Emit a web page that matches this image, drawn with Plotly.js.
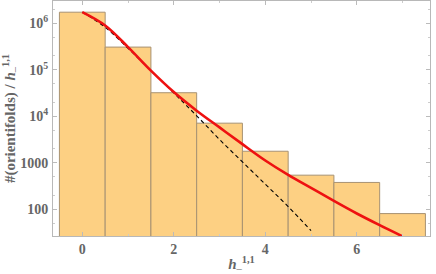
<!DOCTYPE html>
<html><head><meta charset="utf-8">
<script src="https://cdn.plot.ly/plotly-3.0.1.min.js"></script>
<style>html,body{margin:0;padding:0;background:#fff}#c{width:436px;height:274px}</style>
</head><body><div id="c"></div>
<script>
// h^{1,1}_- bins and counts
var hValues = [0, 1, 2, 3, 4, 5, 6, 7];
var counts = [1720000, 306000, 32000, 7100, 1770, 542, 378, 81];

// red fit curve (log10 values)
var fitX = [0, 0.5, 1, 1.5, 2, 2.5, 3, 3.5, 4, 4.5, 5, 5.5, 6, 6.5, 7];
var fitLog = [6.236, 5.95, 5.485, 4.98, 4.52, 4.12, 3.76, 3.40, 3.05, 2.74, 2.46, 2.18, 1.91, 1.66, 1.42];

// black dashed curve (log10 values)
var dashX = [0, 0.5, 1, 1.5, 2, 2.5, 3, 3.5, 4, 4.5, 5];
var dashLog = [6.236, 5.91, 5.46, 4.98, 4.50, 4.01, 3.50, 3.02, 2.54, 2.06, 1.54];

var yTickVals = [100, 1000, 10000, 100000, 1000000];
var yTickText = ['100', '1000', '10<sup>4</sup>', '10<sup>5</sup>', '10<sup>6</sup>'];
var xTickVals = [0, 2, 4, 6];

function pow10(a){return a.map(function(v){return Math.pow(10, v);});}

var gray = '#666666';
var font = {family: 'Liberation Serif, Times New Roman, serif', size: 14, color: gray};

var data = [
  {type: 'bar', x: hValues, y: counts, width: 1,
   marker: {color: '#fdd083', line: {color: '#a89272', width: 1}}, hoverinfo: 'skip'},
  {type: 'scatter', mode: 'lines', x: dashX, y: pow10(dashLog),
   line: {color: '#000', width: 1.1, dash: '4px,3px', shape: 'spline'}},
  {type: 'scatter', mode: 'lines', x: fitX, y: pow10(fitLog),
   line: {color: '#ee1111', width: 2.6, shape: 'spline'}}
];

var layout = {
  width: 436, height: 274,
  margin: {l: 53, r: 6, t: 1, b: 38},
  showlegend: false,
  paper_bgcolor: '#fff', plot_bgcolor: '#fff',
  bargap: 0,
  font: font,
  xaxis: {
    range: [-0.64, 7.6], tickvals: xTickVals, ticktext: xTickVals.map(String),
    ticks: 'inside', ticklen: 4, tickcolor: '#bbb', tickwidth: 1,
    minor: {tickvals: [1, 3, 5, 7], ticks: 'inside', ticklen: 2, tickcolor: '#ccc'},
    showgrid: false, zeroline: false, showline: true, linecolor: '#b8b8b8', linewidth: 1, mirror: 'ticks',
    tickfont: {family: font.family, size: 14, color: gray, weight: 'bold'},
    title: {text: '<b><i>h</i></b><sub>–</sub><sup><b>1,1</b></sup>', standoff: 6,
            font: {family: font.family, size: 15, color: gray}}
  },
  yaxis: {
    type: 'log', range: [1.427, 6.476], tickvals: yTickVals, ticktext: yTickText,
    ticks: 'inside', ticklen: 4, tickcolor: '#bbb', tickwidth: 1,
    minor: {ticks: 'inside', ticklen: 2, tickcolor: '#ccc', showgrid: false},
    showgrid: false, zeroline: false, showline: true, linecolor: '#b8b8b8', linewidth: 1, mirror: 'ticks',
    tickfont: {family: font.family, size: 14, color: gray, weight: 'bold'},
    ticklabelstandoff: 1,
    title: {text: '<b>#(orientifolds) / <i>h</i></b><sub>–</sub><sup><b>1,1</b></sup>', standoff: 2,
            font: {family: font.family, size: 15, color: gray}}
  }
};

Plotly.newPlot('c', data, layout, {displayModeBar: false, staticPlot: true});
</script>
</body></html>
